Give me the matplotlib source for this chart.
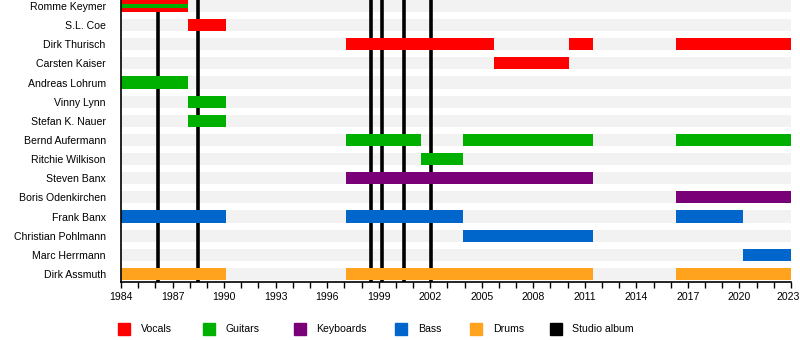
import matplotlib.pyplot as plt
from matplotlib.patches import Rectangle
from matplotlib.transforms import ScaledTranslation

plt.rcParams['font.family'] = ['Liberation Sans', 'DejaVu Sans']
plt.rcParams['font.size'] = 7.6

members = ['Romme Keymer', 'S.L. Coe', 'Dirk Thurisch', 'Carsten Kaiser',
           'Andreas Lohrum', 'Vinny Lynn', 'Stefan K. Nauer', 'Bernd Aufermann',
           'Ritchie Wilkison', 'Steven Banx', 'Boris Odenkirchen', 'Frank Banx',
           'Christian Pohlmann', 'Marc Herrmann', 'Dirk Assmuth']

# (member, role, start, end)
periods = [
    ('Romme Keymer', 'Vocals', 1984.0, 1987.9),
    ('S.L. Coe', 'Vocals', 1987.9, 1990.1),
    ('Dirk Thurisch', 'Vocals', 1997.1, 2005.7),
    ('Dirk Thurisch', 'Vocals', 2010.1, 2011.5),
    ('Dirk Thurisch', 'Vocals', 2016.3, 2023.0),
    ('Carsten Kaiser', 'Vocals', 2005.7, 2010.1),
    ('Andreas Lohrum', 'Guitars', 1984.0, 1987.9),
    ('Vinny Lynn', 'Guitars', 1987.9, 1990.1),
    ('Stefan K. Nauer', 'Guitars', 1987.9, 1990.1),
    ('Bernd Aufermann', 'Guitars', 1997.1, 2001.45),
    ('Bernd Aufermann', 'Guitars', 2003.9, 2011.5),
    ('Bernd Aufermann', 'Guitars', 2016.3, 2023.0),
    ('Ritchie Wilkison', 'Guitars', 2001.45, 2003.9),
    ('Steven Banx', 'Keyboards', 1997.1, 2011.5),
    ('Boris Odenkirchen', 'Keyboards', 2016.3, 2023.0),
    ('Frank Banx', 'Bass', 1984.0, 1990.1),
    ('Frank Banx', 'Bass', 1997.1, 2003.9),
    ('Frank Banx', 'Bass', 2016.3, 2020.2),
    ('Christian Pohlmann', 'Bass', 2003.9, 2011.5),
    ('Marc Herrmann', 'Bass', 2020.2, 2023.0),
    ('Dirk Assmuth', 'Drums', 1984.0, 1990.1),
    ('Dirk Assmuth', 'Drums', 1997.1, 2011.5),
    ('Dirk Assmuth', 'Drums', 2016.3, 2023.0),
]

# secondary role drawn as a thin stripe inside the bar
secondary = [('Romme Keymer', 'Guitars', 1984.0, 1987.9)]

albums = [1986.15, 1988.5, 1998.55, 1999.2, 2000.5, 2002.05]

roles = ['Vocals', 'Guitars', 'Keyboards', 'Bass', 'Drums', 'Studio album']
colors = {'Vocals': '#ff0000', 'Guitars': '#00b000', 'Keyboards': '#7a0078',
          'Bass': '#0066cc', 'Drums': '#ffa31f', 'Studio album': '#000000'}

start, end = 1984, 2023

fig = plt.figure(figsize=(8, 3.4), dpi=100)
ax = fig.add_axes([121/800, 1 - 282/340, 670/800, 282/340])

row = {m: i for i, m in enumerate(members)}
h = 0.63

for i in range(len(members)):
    ax.barh(i, end - start, left=start, height=h, color='#f2f2f2', zorder=1)

for x in albums:
    ax.axvline(x, color='black', lw=2.6, zorder=2)

for m, r, s, e in periods:
    ax.barh(row[m], e - s, left=s, height=h, color=colors[r], zorder=3)
for m, r, s, e in secondary:
    ax.barh(row[m], e - s, left=s, height=h / 3, color=colors[r], zorder=4)

ax.set_xlim(start, end)
ax.set_ylim(len(members) - 1 + 0.42, -0.31)
ax.set_yticks(range(len(members)))
ax.set_yticklabels(members)
ax.tick_params(axis='y', length=0, pad=11)
ax.set_xticks(range(start, end + 1, 3))
ax.set_xticks(range(start, end + 1), minor=True)
ax.tick_params(axis='x', which='both', length=4.5, width=1, direction='out', pad=2.5)

# nudge the last year label so it stays inside the image
last = ax.get_xticklabels()[-1]
last.set_transform(last.get_transform() + ScaledTranslation(-3/100, 0, fig.dpi_scale_trans))

for sp in ['top', 'right']:
    ax.spines[sp].set_visible(False)
ax.spines['left'].set_linewidth(1.2)
ax.spines['bottom'].set_linewidth(1.2)
ax.spines['left'].set_zorder(5)

# legend, drawn by hand to match the spacing of the original
legend_box = [118, 203, 294, 395, 470, 550]
legend_txt = [141, 225, 316, 418, 493, 572]
for r, x, tx in zip(roles, legend_box, legend_txt):
    fig.add_artist(Rectangle((x / 800, 1 - 335/340), 12/800, 12/340,
                             color=colors[r], transform=fig.transFigure))
    fig.text(tx / 800, 1 - 329/340, r, va='center', ha='left')

fig.savefig('out.png', dpi=100)
